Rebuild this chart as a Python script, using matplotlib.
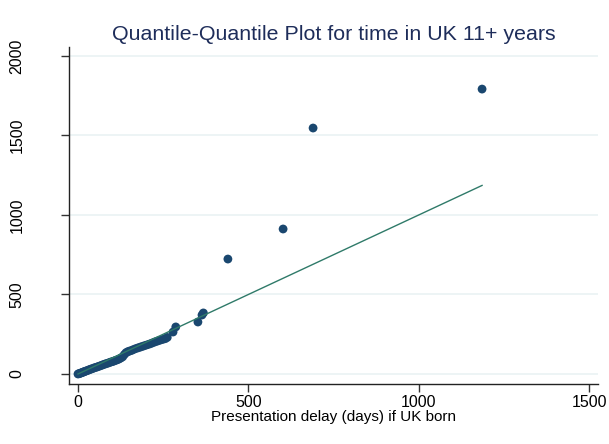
import matplotlib.pyplot as plt

plt.rcParams['font.family'] = ['Liberation Sans', 'DejaVu Sans']

# Quantiles (sorted), plus the y = x reference line
x_quant = [0, 3, 6, 9, 12, 15, 18, 21, 25, 29, 33, 37, 41, 46, 51, 56, 61, 66, 71,
           76, 81, 86, 91, 96, 101, 106, 111, 116, 121, 126, 131, 136, 141, 146, 151,
           157, 163, 170, 177, 184, 191, 198, 205, 212, 219, 226, 233, 240, 248, 256,
           262, 279, 287, 352, 364, 368, 440, 602, 690, 1186]
y_quant = [0, 2, 4, 7, 9, 12, 14, 17, 20, 23, 27, 30, 33, 37, 41, 44, 48, 52, 56,
           60, 64, 67, 71, 75, 78, 82, 86, 90, 95, 101, 108, 122, 134, 140, 144,
           148, 154, 160, 165, 170, 175, 180, 185, 190, 196, 202, 207, 212, 217, 222,
           230, 264, 296, 327, 371, 384, 723, 912, 1547, 1792]
ref_line = [0, 1186]

xticks = [0, 500, 1000, 1500]
yticks = [0, 500, 1000, 1500, 2000]

fig = plt.figure(figsize=(6.09, 4.44), dpi=100)
fig.patch.set_facecolor('white')
ax = fig.add_axes([69 / 609, 1 - 384 / 444, 529 / 609, 337 / 444])

ax.plot(ref_line, ref_line, color='#2f7a69', linewidth=1.0, zorder=3)
ax.scatter(x_quant, y_quant, s=40, color='#1a476f', edgecolors='none', zorder=2)

ax.set_xlim(-26.4, 1526.3)
ax.set_ylim(-62.9, 2056.6)
ax.set_xticks(xticks)
ax.set_yticks(yticks)
ax.set_yticklabels([str(t) for t in yticks], rotation=90, va='center')

ax.grid(axis='y', color='#eaf2f3', linewidth=1.2)
ax.set_axisbelow(True)
for side in ['top', 'right']:
    ax.spines[side].set_visible(False)
for side in ['left', 'bottom']:
    ax.spines[side].set_color('#222222')
    ax.spines[side].set_linewidth(1)

ax.tick_params(axis='both', length=6, width=1, color='#333333', labelsize=11.5)
ax.tick_params(axis='x', pad=2)
ax.tick_params(axis='y', pad=26)

ax.set_xlabel('Presentation delay (days) if UK born', fontsize=11, labelpad=0)
ax.set_title('Quantile-Quantile Plot for time in UK 11+ years',
             fontsize=15.4, color='#1e2d5a', pad=5)

plt.savefig('out.png', dpi=100)
